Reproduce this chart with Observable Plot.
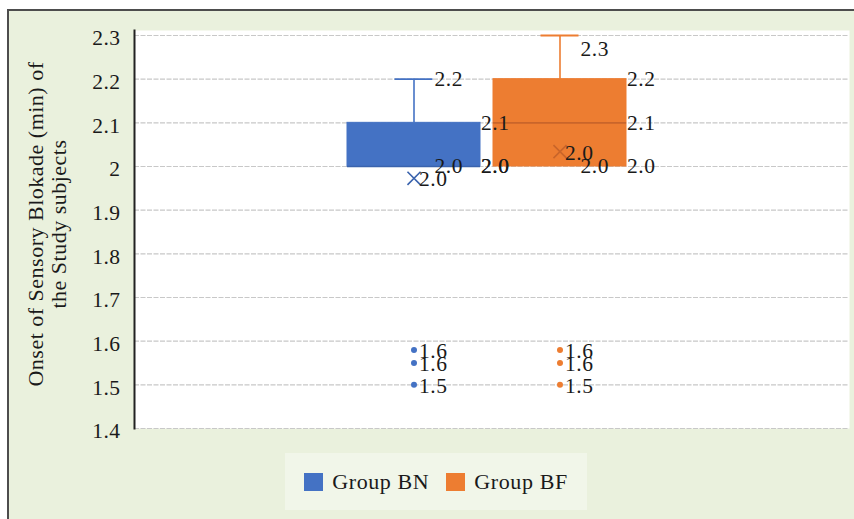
<!DOCTYPE html>
<html>
<head>
<meta charset="utf-8">
<script src="https://cdn.jsdelivr.net/npm/d3@7"></script>
<script src="https://cdn.jsdelivr.net/npm/@observablehq/plot@0.6"></script>
<style>
  html, body { margin: 0; padding: 0; background: #ffffff; }
  #page { position: relative; width: 854px; height: 519px; overflow: hidden; background: #ffffff; font-family: "Liberation Serif", "DejaVu Serif", serif; }
  #panel { position: absolute; left: 7px; top: 9px; width: 847px; height: 510px; background: #eaf1dd; border-top: 2px solid #4d4d4d; border-left: 2px solid #4d4d4d; box-sizing: border-box; }
  #chart { position: absolute; left: 0; top: 0; }
  #ytitle { position: absolute; left: -153px; top: 201px; width: 400px; height: 46px; transform: rotate(-90deg); text-align: center; font-size: 22px; line-height: 23px; color: #1a1a1a; white-space: nowrap; letter-spacing: 0.5px; }
  #legend { position: absolute; left: 285px; top: 453px; width: 302px; height: 57px; background: #f1f6e9; display: flex; align-items: center; justify-content: center; gap: 17px; font-size: 22px; color: #1a1a1a; letter-spacing: 0.6px; }
  .item { display: flex; align-items: center; gap: 9px; }
  .sw { width: 19px; height: 18px; display: inline-block; }
</style>
</head>
<body>
<div id="page">
  <div id="panel"></div>
  <div id="chart"></div>
  <div id="ytitle"></div>
  <div id="legend"></div>
</div>
<script>
// ---- data ----
const groups = ["Group BN", "Group BF"];
const groupColors = ["#4472c4", "#ed7d31"];
const medianColors = ["#3a63ad", "#c9652a"];
const q1 = [2.0, 2.0];
const median = [2.0, 2.1];
const q3 = [2.1, 2.2];
const whiskerLow = [2.0, 2.0];
const whiskerHigh = [2.2, 2.3];
const means = [1.973, 2.034];
const outliersBN = [1.58, 1.55, 1.5];
const outliersBF = [1.58, 1.55, 1.5];
const yTicks = [1.4, 1.5, 1.6, 1.7, 1.8, 1.9, 2.0, 2.1, 2.2, 2.3];
const yTitle = ["Onset of Sensory Blokade (min) of", "the Study subjects"];

// ---- derived tables ----
const boxes = groups.map((g, i) => ({
  g, color: groupColors[i], mcolor: medianColors[i],
  q1: q1[i], median: median[i], q3: q3[i], lo: whiskerLow[i], hi: whiskerHigh[i], mean: means[i]
}));
const outliers = [
  ...outliersBN.map(v => ({g: groups[0], v, color: groupColors[0]})),
  ...outliersBF.map(v => ({g: groups[1], v, color: groupColors[1]}))
];
const fmt = v => v.toFixed(1);
const yMax = yTicks[yTicks.length - 1];
const labels = [];
boxes.forEach(b => {
  labels.push({g: b.g, v: b.hi, kind: "whisker"});
  labels.push({g: b.g, v: b.lo, kind: "whisker"});
  labels.push({g: b.g, v: b.q3, kind: "box"});
  labels.push({g: b.g, v: b.median, kind: "box"});
  labels.push({g: b.g, v: b.q1, kind: "box"});
  labels.push({g: b.g, v: b.mean, kind: "point"});
});
outliers.forEach(o => labels.push({g: o.g, v: o.v, kind: "point"}));

const bandwidth = 134;
const capHalf = 19.5;
const fs = 21.5;

const chart = Plot.plot({
  width: 854,
  height: 445,
  marginLeft: 134,
  marginRight: 5,
  marginTop: 30,
  marginBottom: 17,
  style: {background: "transparent", fontFamily: "Liberation Serif, DejaVu Serif, serif", fontSize: fs + "px", color: "#1a1a1a", letterSpacing: "0.5px"},
  x: {type: "band", domain: groups, range: [346, 627], paddingInner: 0.088, paddingOuter: 0, axis: null},
  y: {domain: [yTicks[0], yMax], range: [428, 35]},
  marks: [
    Plot.frame({fill: "white", stroke: null}),
    Plot.gridY(yTicks, {stroke: "#c8c8c8", strokeOpacity: 1, strokeDasharray: "5,1.5", strokeWidth: 1.2}),
    Plot.axisY(yTicks, {tickSize: 0, tickPadding: 14, dy: 3, fontSize: fs, fill: "#1a1a1a", tickFormat: d => String(+d.toFixed(1)), label: null}),
    Plot.frame({anchor: "left", stroke: "#222", strokeWidth: 2}),
    // whiskers
    Plot.ruleX(boxes, {x: "g", y1: "q3", y2: "hi", stroke: "color", strokeWidth: 1.6}),
    Plot.ruleX(boxes, {x: "g", y1: "lo", y2: "q1", stroke: "color", strokeWidth: 1.6}),
    Plot.tickY(boxes, {x: "g", y: "hi", stroke: "color", strokeWidth: 1.8, inset: (bandwidth - 2 * capHalf) / 2}),
    // boxes
    Plot.barY(boxes, {x: "g", y1: "q1", y2: "q3", fill: "color", stroke: "color", strokeWidth: 1}),
    Plot.tickY(boxes, {x: "g", y: "median", stroke: "mcolor", strokeWidth: 1.6}),
    // means
    Plot.dot(boxes, {x: "g", y: "mean", symbol: "times", r: 6, stroke: "mcolor", strokeWidth: 1.6}),
    // outliers
    Plot.dot(outliers, {x: "g", y: "v", r: 3, fill: "color", stroke: null}),
    // data labels
    Plot.text(labels.filter(d => d.kind === "whisker" && d.v < yMax - 1e-9), {x: "g", y: "v", text: d => fmt(d.v), textAnchor: "start", dx: capHalf + 1, fill: "#1a1a1a", fontSize: fs}),
    Plot.text(labels.filter(d => d.kind === "whisker" && d.v >= yMax - 1e-9), {x: "g", y: "v", text: d => fmt(d.v), textAnchor: "start", dx: capHalf + 1, dy: 14, fill: "#1a1a1a", fontSize: fs}),
    Plot.text(labels.filter(d => d.kind === "box"), {x: "g", y: "v", text: d => fmt(d.v), textAnchor: "start", dx: bandwidth / 2, fill: "#1a1a1a", fontSize: fs}),
    Plot.text(labels.filter(d => d.kind === "point"), {x: "g", y: "v", text: d => fmt(d.v), textAnchor: "start", dx: 5, dy: 1, fill: "#1a1a1a", fontSize: fs})
  ]
});
document.getElementById("chart").appendChild(chart);

document.getElementById("ytitle").innerHTML = yTitle.join("<br>");

const legend = document.getElementById("legend");
groups.forEach((g, i) => {
  const item = document.createElement("div");
  item.className = "item";
  const sw = document.createElement("span");
  sw.className = "sw";
  sw.style.background = groupColors[i];
  const t = document.createElement("span");
  t.textContent = g;
  item.appendChild(sw);
  item.appendChild(t);
  legend.appendChild(item);
});
</script>
</body>
</html>
